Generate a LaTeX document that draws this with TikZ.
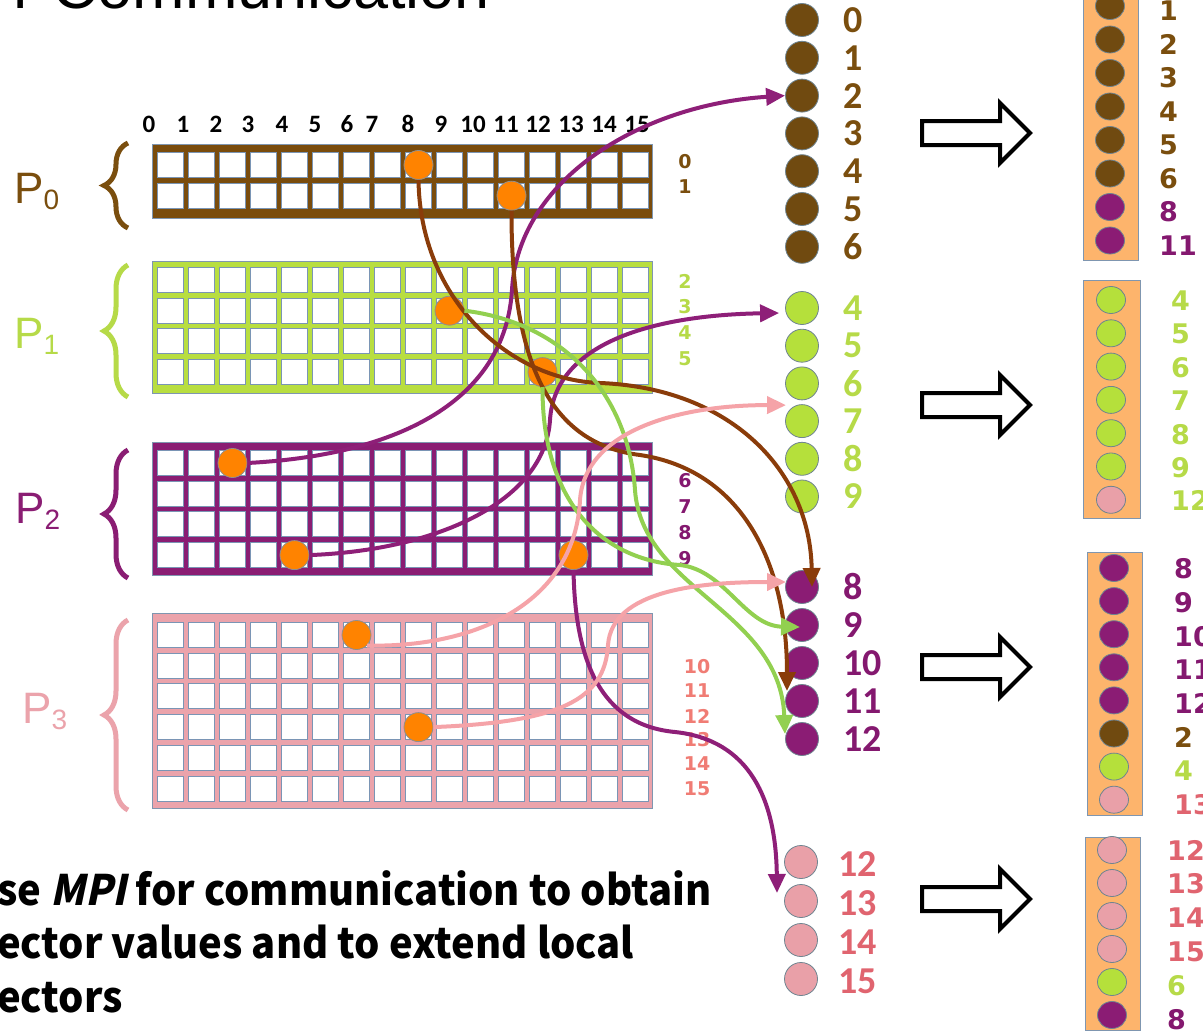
\documentclass[tikz,border=0pt]{standalone}
\usepackage{fontspec}
\setmainfont{Liberation Sans}
\newfontfamily\numfont{Carlito}
\newfontfamily\dvfont{DejaVu Sans}
\newfontfamily\txtfont{Noto Sans CJK SC}
\newfontfamily\txtslant{Noto Sans CJK SC}[FakeSlant=0.22]
\usetikzlibrary{arrows.meta,calc,shapes.geometric,decorations.pathreplacing}

% process colours
\definecolor{mbrown}{HTML}{7A4C0C}
\definecolor{mgreen}{HTML}{B8DE40}
\definecolor{mpurple}{HTML}{8A1D73}
\definecolor{mpink}{HTML}{EBA3AB}
\definecolor{lbrown}{HTML}{7A4E0E}
\definecolor{lgreen}{HTML}{B6DA48}
\definecolor{lpurple}{HTML}{84186F}
\definecolor{lpink}{HTML}{E0646F}
\definecolor{lsalmon}{HTML}{F07C74}
\definecolor{cbrown}{HTML}{704A10}
\definecolor{cgreen}{HTML}{B5E03B}
\definecolor{cpurple}{HTML}{8B1C74}
\definecolor{cpink}{HTML}{E9A0A8}
\definecolor{abrown}{HTML}{8A3C0A}
\definecolor{agreen}{HTML}{92D050}
\definecolor{apurple}{HTML}{8E1F78}
\definecolor{apink}{HTML}{F5A3A8}
\definecolor{dotorange}{HTML}{FF8300}
\definecolor{dotedge}{HTML}{8F8F8F}
\definecolor{cellblue}{HTML}{7A95B5}
\definecolor{frameblue}{HTML}{7F96B0}
\definecolor{barorange}{HTML}{FDB46C}
\definecolor{edgegray}{HTML}{6F8490}

\tikzset{
  cellbox/.style={draw=cellblue, line width=0.9, fill=white},
  frame/.style={draw=frameblue, line width=1},
  odot/.style={circle, fill=dotorange, draw=dotedge, line width=0.8, minimum size=29, inner sep=0},
  mcirc/.style={circle, minimum size=33, inner sep=0, line width=0.8, draw=edgegray},
  bcirc/.style={ellipse, minimum width=29, minimum height=27, inner sep=0, line width=0.8, draw=edgegray},
  midlab/.style={anchor=west, inner sep=0, font=\numfont\bfseries\fontsize{38}{38}\selectfont},
  barlab/.style={anchor=west, inner sep=0, font=\dvfont\bfseries\fontsize{27}{27}\selectfont},
  rowlab/.style={inner sep=0, font=\dvfont\bfseries\fontsize{19}{19}\selectfont},
  collab/.style={inner sep=0, font=\numfont\bfseries\fontsize{25}{25}\selectfont},
  plab/.style={anchor=base west, inner sep=0, font=\fontsize{44}{44}\selectfont},
  conn/.style={line width=4, -{Triangle[length=19pt,width=17pt]}},
  hollow/.style={draw=black, line width=4, fill=white, line join=miter},
  pbrace/.style={decorate, decoration={brace, amplitude=24pt}, line width=5},
  bar/.style={fill=barorange, draw=frameblue, line width=1},
  para/.style={anchor=base west, inner sep=0, font=\txtfont\bfseries\fontsize{42}{42}\selectfont},
}

% cell grid of one block: #1 = centre y of first row, #2 = number of rows
\newcommand{\cellgrid}[2]{%
  \foreach \r in {1,...,#2}{
    \foreach \c in {0,...,15}{
      \draw[cellbox] ({157.5+31*\c},{#1-12.5+30.7*(\r-1)}) rectangle ++(26,25);
    }
  }
}
% hollow block arrow centred at height #1
\newcommand{\blockarrow}[1]{%
  \draw[hollow] (922,#1-12) -- (1000,#1-12) -- (1000,#1-30) -- (1030,#1)
    -- (1000,#1+30) -- (1000,#1+12) -- (922,#1+12) -- cycle;
}
% process name with subscript
\newcommand{\pname}[1]{P\raisebox{-6pt}{\fontsize{28}{28}\selectfont #1}}

\begin{document}
\begin{tikzpicture}[x=1pt,y=-1pt]
\useasboundingbox (0,0) rectangle (1203,1033);
\clip (0,0) rectangle (1203,1033);
\fill[white] (0,0) rectangle (1203,1033);

% heading
\node[anchor=base east, inner sep=0, font=\fontsize{63}{63}\selectfont] (title) at (490,9) {r Communication};

% column numbers
\foreach \x [count=\i from 0] in {149,183,216,248,282,315,347,372,408,441,473,506,538,571,604,637}
  \node[collab] (col\i) at (\x,124) {\i};

% matrix blocks
\fill[mbrown] (152,144) rectangle (652,218); \draw[frame] (152,144) rectangle (652,218);
\cellgrid{165}{2}
\fill[mgreen] (152,261) rectangle (652,393); \draw[frame] (152,261) rectangle (652,393);
\cellgrid{280}{4}
\fill[mpurple] (152,442) rectangle (652,575); \draw[frame] (152,442) rectangle (652,575);
\cellgrid{463}{4}
\fill[mpink] (152,613) rectangle (652,808); \draw[frame] (152,613) rectangle (652,808);
\cellgrid{635}{6}

% braces and process names
\draw[pbrace, lbrown] (128,228) -- (128,143);
\draw[pbrace, lgreen] (128,397) -- (128,265);
\draw[pbrace, mpurple] (128,578) -- (128,450);
\draw[pbrace, mpink] (128,810) -- (128,620);
\node[plab, text=lbrown] (pname0) at (14,203) {\pname{0}};
\node[plab, text=lgreen] (pname1) at (14,348) {\pname{1}};
\node[plab, text=mpurple] (pname2) at (15,523) {\pname{2}};
\node[plab, text=mpink] (pname3) at (22,723) {\pname{3}};

% row numbers
\node[rowlab, text=lbrown] (row0) at (685,162) {0};
\node[rowlab, text=lbrown] (row1) at (685,187) {1};
\foreach \n/\y in {2/281,3/307,4/333,5/359}
  \node[rowlab, text=lgreen] (row\n) at (685,\y) {\n};
\foreach \n/\y in {6/481,7/507,8/533,9/559}
  \node[rowlab, text=lpurple] (row\n) at (685,\y) {\n};
\foreach \n/\y in {10/667,11/691,12/716,13/740,14/764,15/789}
  \node[rowlab, text=lsalmon] (row\n) at (697,\y) {\n};

% nonzeros
\node[odot] (p0c8) at (418.5,165) {};
\node[odot] (p0c11) at (511.5,195.7) {};
\node[odot] (p1c9) at (449.5,310.7) {};
\node[odot] (p1c12) at (542.5,372.1) {};
\node[odot] (p2c2) at (232.5,463) {};
\node[odot] (p2c4) at (294.5,555.1) {};
\node[odot] (p2c13) at (573.5,555.1) {};
\node[odot] (p3c6) at (356.5,635) {};
\node[odot] (p3c8) at (418.5,727.1) {};

% distributed vector
\foreach \n [count=\i from 0] in {0,...,6}{
  \node[mcirc, fill=cbrown] (b\n) at (802,{20+37.8*\i}) {};
  \node[midlab, text=lbrown] (bl\n) at (843,{20+37.8*\i}) {\n};
}
\foreach \n [count=\i from 0] in {4,...,9}{
  \node[mcirc, fill=cgreen] (g\n) at (802,{308+37.7*\i}) {};
  \node[midlab, text=lgreen] (gl\n) at (843,{308+37.7*\i}) {\n};
}
\foreach \n [count=\i from 0] in {8,...,12}{
  \node[mcirc, fill=cpurple] (u\n) at (802,{587+38*\i}) {};
  \node[midlab, text=lpurple] (ul\n) at (843,{587+38*\i}) {\n};
}
\foreach \n [count=\i from 0] in {12,...,15}{
  \node[mcirc, fill=cpink] (k\n) at (801,{862+39*\i}) {};
  \node[midlab, text=lpink] (kl\n) at (838,{864+39*\i}) {\n};
}

% communication
\draw[conn, apurple] (p2c2.east) .. controls (400,455) and (505,400) .. (512,290)
  .. controls (518,180) and (640,105) .. (b2.west);
\draw[conn, apurple] (p2c4.east) .. controls (440,550) and (545,500) .. (550,420)
  .. controls (555,340) and (660,315) .. ($(g4.west)+(-6,5)$);
\draw[conn, apurple] (p2c13.south) .. controls (575,660) and (600,725) .. (675,732)
  .. controls (750,740) and (776,800) .. ($(k13.center)+(-24,-8)$);
\draw[conn, abrown] (p0c8.south) .. controls (420,300) and (510,380) .. (600,383)
  .. controls (730,388) and (810,470) .. ($(u8.center)+(10,0)$);
\draw[conn, abrown] (p0c11.south) .. controls (511,380) and (560,445) .. (640,455)
  .. controls (740,470) and (787,560) .. ($(u11.center)+(-15,-10)$);
\draw[conn, agreen] (p1c9.east) .. controls (560,322) and (628,390) .. (635,490)
  .. controls (642,590) and (780,610) .. ($(u12.center)+(-17,-5)$);
\draw[conn, agreen] (p1c12.south) .. controls (542,500) and (600,560) .. (680,565)
  .. controls (725,570) and (745,626) .. ($(u9.center)+(-2,2)$);
\draw[conn, apink] (p3c6.south east) .. controls (480,648) and (575,600) .. (580,500)
  .. controls (585,430) and (680,405) .. ($(g7.center)+(-16,-16)$);
\draw[conn, apink] (p3c8.east) .. controls (560,722) and (605,700) .. (608,645)
  .. controls (612,590) and (700,582) .. ($(u8.center)+(-16,-5)$);

% extension arrows
\blockarrow{133}
\blockarrow{405}
\blockarrow{667}
\blockarrow{899}

% extended local vectors
\draw[bar] (1083,-10) rectangle (1138,260);
\foreach \n/\cf/\ct [count=\i from 0] in {1/cbrown/lbrown,2/cbrown/lbrown,3/cbrown/lbrown,4/cbrown/lbrown,5/cbrown/lbrown,6/cbrown/lbrown,8/cpurple/lpurple,11/cpurple/lpurple}{
  \node[bcirc, fill=\cf] (ea\i) at (1110,{6+33.5*\i}) {};
  \node[barlab, text=\ct] (eal\i) at (1159,{11+33.5*\i}) {\n};
}
\draw[bar] (1083,280) rectangle (1140,518);
\foreach \n/\cf [count=\i from 0] in {4/cgreen,5/cgreen,6/cgreen,7/cgreen,8/cgreen,9/cgreen,12/cpink}{
  \node[bcirc, fill=\cf] (eb\i) at (1111,{300+33.3*\i}) {};
  \node[barlab, text=lgreen] (ebl\i) at (1171,{301+33.3*\i}) {\n};
}
\draw[bar] (1087,552) rectangle (1142,815);
\foreach \n/\cf/\ct [count=\i from 0] in {8/cpurple/lpurple,9/cpurple/lpurple,10/cpurple/lpurple,11/cpurple/lpurple,12/cpurple/lpurple,2/cbrown/lbrown,4/cgreen/lgreen,13/cpink/lpink}{
  \node[bcirc, fill=\cf] (ec\i) at (1114,{568+33.1*\i}) {};
  \node[barlab, text=\ct] (ecl\i) at (1174,{569+33.6*\i}) {\n};
}
\draw[bar] (1085,837) rectangle (1140,1030);
\foreach \n/\cf/\ct [count=\i from 0] in {12/cpink/lpink,13/cpink/lpink,14/cpink/lpink,15/cpink/lpink,6/cgreen/lgreen,8/cpurple/lpurple}{
  \node[bcirc, fill=\cf] (ed\i) at (1112,{850+33*\i}) {};
  \node[barlab, text=\ct] (edl\i) at (1167,{850+34*\i}) {\n};
}

% explanatory text
\node[para, xscale=0.95] (line1) at (-3,905) {se {\txtslant\bfseries MPI} for communication to obtain};
\node[para, xscale=0.95] (line2) at (-3,958) {ector values and to extend local};
\node[para, xscale=0.95] (line3) at (-3,1012) {ectors};
\end{tikzpicture}
\end{document}
